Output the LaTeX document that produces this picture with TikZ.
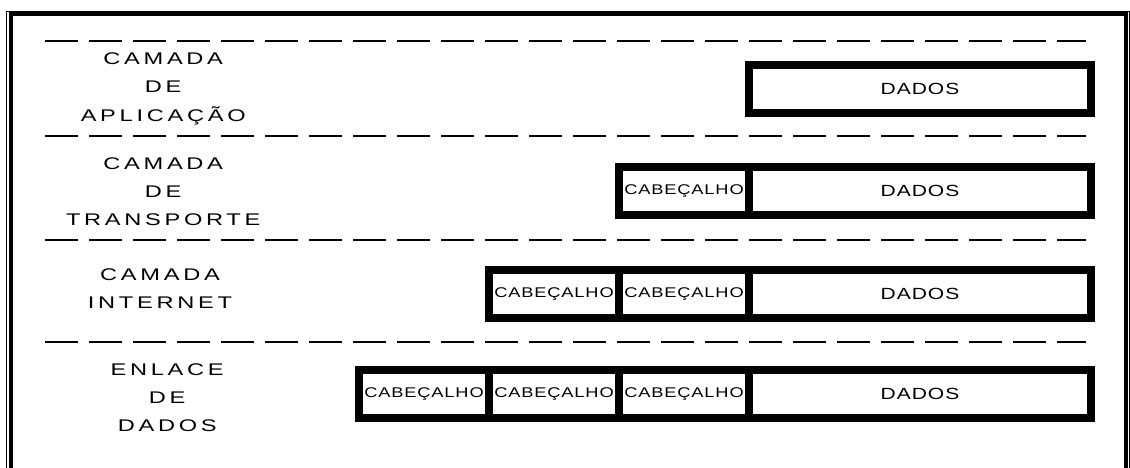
\documentclass[tikz,border=0pt]{standalone}
\usepackage{fontspec}
\setmainfont{Liberation Sans}
\usetikzlibrary{positioning}

\begin{document}
\begin{tikzpicture}[
    layer/.style={align=center, font=\fontsize{12pt}{20pt}\selectfont\addfontfeature{FakeStretch=1.4, LetterSpace=22}},
    cell/.style={draw, line width=5.7pt, outer sep=0pt, inner sep=0pt, minimum height=1.2cm},
    head/.style={cell, minimum width=3.25cm, font=\fontsize{10pt}{12pt}\selectfont\addfontfeature{FakeStretch=1.3, LetterSpace=6}},
    data/.style={cell, minimum width=8.55cm, font=\fontsize{11.5pt}{13pt}\selectfont\addfontfeature{FakeStretch=1.3, LetterSpace=6}},
    sep/.style={line width=1pt, dash pattern=on 0.825cm off 0.275cm}
]
  \useasboundingbox (0,0) rectangle (28.25,11.7);

  % =========================================================================
  % MOLDURA
  % =========================================================================
  \draw[line width=1pt] (0.16,-0.2) |- (28.23,11.41) -- (28.23,-0.2);
  \draw[line width=2.8pt] (0.275,-0.2) |- (28.16,11.34) -- (28.16,-0.2);

  % linhas tracejadas entre as camadas
  \foreach \y in {10.675, 8.3, 5.7, 3.15}
    \draw[sep] (1.125,\y) -- (27.15,\y);

  % =========================================================================
  % CAMADA DE APLICACAO
  % =========================================================================
  \node[layer] (l_apl) at (4.08, 9.48) {CAMADA\\DE\\APLICAÇÃO};
  \node[data, anchor=east] (d_apl) at (27.275, 9.48) {DADOS};

  % =========================================================================
  % CAMADA DE TRANSPORTE
  % =========================================================================
  \node[layer] (l_tra) at (4.08, 6.9) {CAMADA\\DE\\TRANSPORTE};
  \node[data, anchor=east] (d_tra) at (27.275, 6.92) {DADOS};
  \node[head, left=0pt of d_tra] (h_tra1) {CABEÇALHO};

  % =========================================================================
  % CAMADA INTERNET
  % =========================================================================
  \node[layer] (l_int) at (4.0, 4.48) {CAMADA\\INTERNET};
  \node[data, anchor=east] (d_int) at (27.275, 4.36) {DADOS};
  \node[head, left=0pt of d_int] (h_int1) {CABEÇALHO};
  \node[head, left=0pt of h_int1] (h_int2) {CABEÇALHO};

  % =========================================================================
  % ENLACE DE DADOS
  % =========================================================================
  \node[layer] (l_enl) at (4.18, 1.75) {ENLACE\\DE\\DADOS};
  \node[data, anchor=east] (d_enl) at (27.275, 1.84) {DADOS};
  \node[head, left=0pt of d_enl] (h_enl1) {CABEÇALHO};
  \node[head, left=0pt of h_enl1] (h_enl2) {CABEÇALHO};
  \node[head, left=0pt of h_enl2] (h_enl3) {CABEÇALHO};

\end{tikzpicture}
\end{document}
